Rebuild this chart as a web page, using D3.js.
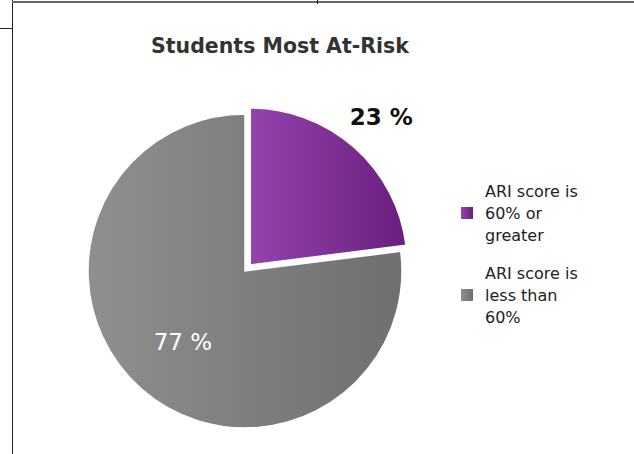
<!DOCTYPE html>
<html>
<head>
<meta charset="utf-8">
<script src="https://cdn.jsdelivr.net/npm/d3@7"></script>
<style>
  body { margin: 0; background: #fff; }
  svg { display: block; }
</style>
</head>
<body>
<svg id="chart" width="634" height="454"></svg>
<script>
// chart data
var title = "Students Most At-Risk";
var categories = ["ARI score is 60% or greater", "ARI score is less than 60%"];
var values = [23, 77];
var sliceLabels = ["23 %", "77 %"];
var legendLines = [["ARI score is", "60% or", "greater"], ["ARI score is", "less than", "60%"]];

var width = 634, height = 454;
var svg = d3.select('#chart');
var font = "'DejaVu Sans', Verdana, sans-serif";

// frame lines around the chart
svg.append('line').attr('x1', 12.5).attr('x2', 12.5).attr('y1', 0).attr('y2', height)
  .attr('stroke', '#222').attr('stroke-width', 1);
svg.append('line').attr('x1', 12).attr('x2', width).attr('y1', 2).attr('y2', 2)
  .attr('stroke', '#666').attr('stroke-width', 2);
svg.append('line').attr('x1', 0).attr('x2', 12).attr('y1', 28.5).attr('y2', 28.5)
  .attr('stroke', '#222').attr('stroke-width', 1);
svg.append('line').attr('x1', 317.5).attr('x2', 317.5).attr('y1', 0).attr('y2', 4)
  .attr('stroke', '#111').attr('stroke-width', 1);

// gradients
var defs = svg.append('defs');
var grads = [["#9444ad", "#6a1e7f"], ["#8f8f8f", "#6f6f6f"]];
grads.forEach(function(g, i) {
  var lg = defs.append('linearGradient').attr('id', 'grad' + i)
    .attr('x1', '0%').attr('x2', '100%').attr('y1', '0%').attr('y2', '0%');
  lg.append('stop').attr('offset', '0%').attr('stop-color', g[0]);
  lg.append('stop').attr('offset', '100%').attr('stop-color', g[1]);
});

svg.append('text')
  .attr('x', 280).attr('y', 53)
  .attr('text-anchor', 'middle')
  .attr('font-family', font).attr('font-weight', 'bold').attr('font-size', 20.5)
  .attr('fill', '#333')
  .text(title);

var cx = 245, cy = 271, radius = 157, explode = 8;

var pie = d3.pie().sort(null).value(function(d) { return d; });
var arc = d3.arc().innerRadius(0).outerRadius(radius);
var arcs = pie(values);

var g = svg.append('g').attr('transform', 'translate(' + cx + ',' + cy + ')');

arcs.forEach(function(a, i) {
  var mid = (a.startAngle + a.endAngle) / 2;
  var off = i === 0 ? explode : 0;
  var dx = off * Math.sin(mid), dy = -off * Math.cos(mid);
  var sg = g.append('g').attr('transform', 'translate(' + dx + ',' + dy + ')');
  sg.append('path')
    .attr('d', arc(a))
    .attr('fill', 'url(#grad' + i + ')')
    .attr('stroke', '#fff').attr('stroke-width', 1.5);

  var lr = i === 0 ? 198 : 94;
  sg.append('text')
    .attr('x', lr * Math.sin(mid))
    .attr('y', -lr * Math.cos(mid))
    .attr('dy', '0.35em')
    .attr('text-anchor', 'middle')
    .attr('font-family', font)
    .attr('font-weight', i === 0 ? 'bold' : 'normal')
    .attr('font-size', 23)
    .attr('fill', i === 0 ? '#111' : '#fff')
    .text(sliceLabels[i]);
});

// legend
var legend = svg.append('g').attr('transform', 'translate(461,0)');
var legendTop = [197, 279];
categories.forEach(function(c, i) {
  var lg = legend.append('g').attr('class', 'legend-item');
  lg.append('rect')
    .attr('x', 0).attr('y', legendTop[i] + 10)
    .attr('width', 12).attr('height', 12)
    .attr('fill', 'url(#grad' + i + ')');
  legendLines[i].forEach(function(line, j) {
    lg.append('text')
      .attr('x', 24).attr('y', legendTop[i] + j * 22)
      .attr('font-family', font).attr('font-size', 16)
      .attr('fill', '#222')
      .text(line);
  });
});
</script>
</body>
</html>
